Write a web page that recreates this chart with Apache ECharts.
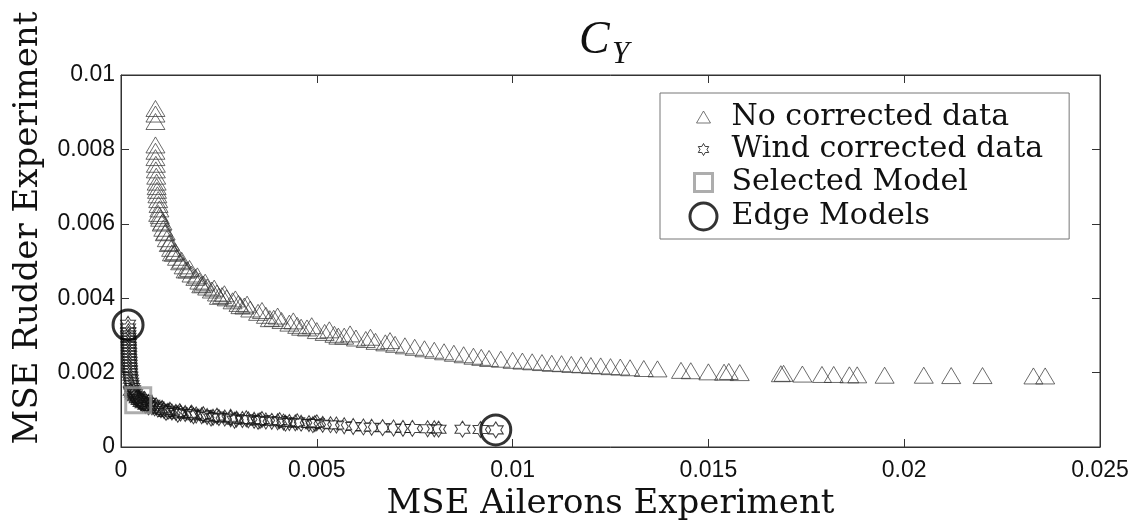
<!DOCTYPE html>
<html><head><meta charset="utf-8">
<script src="https://cdn.jsdelivr.net/npm/echarts@6/dist/echarts.min.js"></script>
<style>html,body{margin:0;padding:0;background:#fff}#c{width:1136px;height:521px}</style>
</head><body><div id="c"></div>
<script>
// ---- data ----
const xTickLabels = ['0', '0.005', '0.01', '0.015', '0.02', '0.025'];
const yTickLabels = ['0', '0.002', '0.004', '0.006', '0.008', '0.01'];
const seriesNames = ['No corrected data', 'Wind corrected data', 'Selected Model', 'Edge Models'];

// [MSE ailerons, MSE rudder]
const noCorrected = [
[0.00088,0.00910],[0.00088,0.00895],[0.00088,0.00875],[0.00088,0.00812],[0.00088,0.00795],[0.00088,0.00778],
[0.00089,0.00760],[0.00089,0.00745],[0.00090,0.00728],[0.00091,0.00712],[0.00091,0.00700],[0.00092,0.00690],
[0.00093,0.00678],[0.00095,0.00665],[0.00096,0.00652],[0.00098,0.00640],[0.00095,0.00628],[0.00099,0.00622],
[0.00100,0.00615],[0.00104,0.00602],[0.00108,0.00588],[0.00112,0.00576],[0.00117,0.00560],[0.00122,0.00547],
[0.00128,0.00534],[0.00135,0.00521],[0.00143,0.00510],[0.00151,0.00498],[0.00160,0.00487],[0.00170,0.00476],
[0.00180,0.00465],[0.00190,0.00456],[0.00200,0.00446],[0.00210,0.00438],[0.00220,0.00430],[0.00232,0.00422],
[0.00245,0.00414],[0.00258,0.00407],[0.00270,0.00401],[0.00285,0.00393],[0.00300,0.00386],[0.00315,0.00379],
[0.00330,0.00371],[0.00350,0.00362],[0.00370,0.00354],[0.00390,0.00346],[0.00410,0.00340],[0.00430,0.00333],
[0.00450,0.00327],[0.00475,0.00320],[0.00500,0.00313],[0.00520,0.00308],[0.00545,0.00303],[0.00570,0.00298],
[0.00600,0.00293],[0.00625,0.00289],[0.00650,0.00284],[0.00675,0.00280],[0.00700,0.00276],[0.00725,0.00272],
[0.00750,0.00268],[0.00775,0.00264],[0.00800,0.00260],[0.00825,0.00256],[0.00850,0.00252],[0.00875,0.00248],
[0.00900,0.00244],[0.00920,0.00241],[0.00940,0.00238],[0.00970,0.00236],[0.01000,0.00233],[0.01025,0.00231],
[0.01050,0.00229],[0.01075,0.00227],[0.01100,0.00225],[0.01125,0.00224],[0.01150,0.00222],[0.01175,0.00221],
[0.01200,0.00219],[0.01225,0.00218],[0.01250,0.00216],[0.01275,0.00215],[0.01300,0.00213],[0.01335,0.00211],
[0.01370,0.00210],
[0.00106,0.00605],[0.00114,0.00578],[0.00125,0.00550],[0.00139,0.00525],[0.00155,0.00502],[0.00175,0.00480],
[0.00195,0.00460],[0.00215,0.00443],[0.00238,0.00427],[0.00264,0.00412],[0.00292,0.00398],[0.00322,0.00384],
[0.00360,0.00367],[0.00400,0.00352],[0.00440,0.00339],[0.00487,0.00326],[0.00532,0.00315],[0.00585,0.00304],
[0.00637,0.00295],[0.00687,0.00286],
[0.00130,0.00522],[0.00165,0.00476],[0.00205,0.00436],[0.00250,0.00405],[0.00305,0.00380],[0.00380,0.00345],
[0.00460,0.00322],[0.00555,0.00298],
[0.01430,0.00206],[0.01455,0.00205],[0.01500,0.00202],[0.01540,0.00201],[0.01552,0.00203],[0.01580,0.00200],
[0.01685,0.00197],[0.01692,0.00198],[0.01740,0.00196],[0.01790,0.00195],[0.01820,0.00195],[0.01860,0.00194],
[0.01880,0.00194],[0.01950,0.00193],[0.02050,0.00193],[0.02120,0.00192],[0.02200,0.00192],[0.02330,0.00191],
[0.02360,0.00191]
];

const windCorrected = [
[0.00018,0.00330],[0.00018,0.00320],[0.00019,0.00310],[0.00019,0.00302],[0.00019,0.00294],[0.00020,0.00286],
[0.00020,0.00278],[0.00020,0.00270],[0.00020,0.00262],[0.00021,0.00254],[0.00021,0.00246],[0.00021,0.00238],
[0.00022,0.00230],[0.00022,0.00222],[0.00022,0.00214],[0.00023,0.00206],[0.00023,0.00198],[0.00024,0.00190],
[0.00025,0.00182],[0.00026,0.00174],[0.00027,0.00167],[0.00029,0.00160],[0.00031,0.00154],[0.00033,0.00148],
[0.00036,0.00143],[0.00039,0.00138],[0.00042,0.00134],[0.00046,0.00130],[0.00050,0.00126],[0.00055,0.00122],
[0.00060,0.00118],[0.00066,0.00114],[0.00072,0.00111],[0.00079,0.00108],[0.00086,0.00105],[0.00094,0.00102],
[0.00102,0.00100],[0.00110,0.00098],[0.00120,0.00096],[0.00130,0.00094],[0.00140,0.00093],[0.00152,0.00091],
[0.00164,0.00090],[0.00178,0.00088],[0.00192,0.00086],[0.00206,0.00084],[0.00220,0.00082],[0.00235,0.00080],
[0.00250,0.00079],[0.00265,0.00078],[0.00280,0.00076],[0.00295,0.00075],[0.00310,0.00074],[0.00325,0.00073],
[0.00340,0.00072],[0.00355,0.00071],[0.00370,0.00070],[0.00385,0.00069],[0.00400,0.00068],[0.00415,0.00067],
[0.00430,0.00066],[0.00445,0.00065],[0.00460,0.00064],[0.00480,0.00063],[0.00495,0.00063],[0.00515,0.00061],
[0.00535,0.00060],[0.00550,0.00059],[0.00570,0.00057],[0.00593,0.00055],[0.00619,0.00054],[0.00640,0.00053],
[0.00668,0.00052],[0.00696,0.00051],[0.00720,0.00050],[0.00744,0.00050],[0.00783,0.00049],[0.00800,0.00049],
[0.00811,0.00048],[0.00872,0.00048],[0.00918,0.00047],[0.00957,0.00046],
[0.00025,0.00150],[0.00028,0.00145],[0.00030,0.00140],[0.00035,0.00135],[0.00040,0.00130],[0.00045,0.00125],
[0.00050,0.00120],[0.00055,0.00116],[0.00062,0.00112],[0.00070,0.00108],[0.00060,0.00128],[0.00070,0.00120],
[0.00080,0.00115],[0.00090,0.00110],[0.00105,0.00104],[0.00125,0.00099],[0.00150,0.00095],[0.00180,0.00091],
[0.00210,0.00087],[0.00245,0.00083],[0.00280,0.00080],[0.00320,0.00076],[0.00360,0.00074],[0.00405,0.00071],
[0.00450,0.00068],[0.00500,0.00065],[0.00115,0.00093],[0.00145,0.00088],[0.00185,0.00084],[0.00230,0.00078],
[0.00290,0.00072],[0.00350,0.00069],[0.00420,0.00064],[0.00490,0.00060]
];

const selectedModel = [[0.00044, 0.00126]];
const edgeModels = [[0.00018, 0.00328], [0.00957, 0.00046]];

// ---- symbols ----
const hexPath = 'path://M50 0 L64.4 25 L93.3 25 L78.9 50 L93.3 75 L64.4 75 L50 100 L35.6 75 L6.7 75 L21.1 50 L6.7 25 L35.6 25 Z';
const legTri = 'path://M0 0 M30 30 M15 8.5 L22 20.5 L8 20.5 Z';
const legHex = 'path://M0 0 M30 30 M15 9 L16.7 12 L20.2 12 L18.5 15 L20.2 18 L16.7 18 L15 21 L13.3 18 L9.8 18 L11.5 15 L9.8 12 L13.3 12 Z';
const legSq = 'path://M0 0 M30 30 M6 6 L24 6 L24 24 L6 24 Z';
const legCirc = 'path://M0 0 M30 30 M15 1.5 A13.5 13.5 0 1 1 14.99 1.5 Z';

const xFmt = v => { const i = Math.round(v / 0.005); return xTickLabels[i] !== undefined ? xTickLabels[i] : ''; };
const yFmt = v => { const i = Math.round(v / 0.002); return yTickLabels[i] !== undefined ? yTickLabels[i] : ''; };

const chart = echarts.init(document.getElementById('c'), null, {renderer: 'canvas'});
const axisCommon = {
  type: 'value',
  axisLine: {show: true, onZero: false, lineStyle: {color: '#333', width: 1}},
  axisTick: {show: true, inside: true, length: 8, lineStyle: {color: '#333'}},
  splitLine: {show: false}
};
chart.setOption({
  animation: false,
  backgroundColor: '#fff',
  title: [
    {text: 'C', left: 574, top: 13,
     textStyle: {fontFamily: 'Liberation Serif', fontStyle: 'italic', fontWeight: 'normal', fontSize: 46, color: '#111'}},
    {text: 'Y', left: 607, top: 34,
     textStyle: {fontFamily: 'Liberation Serif', fontStyle: 'italic', fontWeight: 'normal', fontSize: 31, color: '#111'}}
  ],
  grid: {left: 121, right: 36, top: 75, bottom: 74, show: true, borderColor: '#333', borderWidth: 1,
         containLabel: false, outerBoundsMode: 'none'},
  legend: {
    orient: 'vertical', left: 660, top: 93,
    padding: [9, 26, 6, 27], itemGap: 1, itemWidth: 30, itemHeight: 30,
    borderColor: '#777', borderWidth: 1, backgroundColor: '#fff',
    textStyle: {fontFamily: 'DejaVu Serif', fontSize: 30, color: '#111', padding: [0, 0, 0, 8]},
    data: [
      {name: seriesNames[0], icon: legTri, itemStyle: {color: 'rgba(0,0,0,0)', borderColor: '#555', borderWidth: 1}},
      {name: seriesNames[1], icon: legHex, itemStyle: {color: 'rgba(0,0,0,0)', borderColor: '#111', borderWidth: 1}},
      {name: seriesNames[2], icon: legSq, itemStyle: {color: 'rgba(0,0,0,0)', borderColor: '#999', borderWidth: 3}},
      {name: seriesNames[3], icon: legCirc, itemStyle: {color: 'rgba(0,0,0,0)', borderColor: '#000', borderWidth: 3}}
    ]
  },
  xAxis: [
    Object.assign({}, axisCommon, {
      min: 0, max: 0.025, interval: 0.005, position: 'bottom',
      name: 'MSE Ailerons Experiment', nameLocation: 'middle', nameGap: 32,
      nameTextStyle: {fontFamily: 'DejaVu Serif', fontSize: 34, color: '#111'},
      axisLabel: {formatter: xFmt, margin: 12, fontFamily: 'Liberation Sans', fontSize: 23, color: '#111'}
    }),
    Object.assign({}, axisCommon, {
      min: 0, max: 0.025, interval: 0.005, position: 'top', axisLabel: {show: false}
    })
  ],
  yAxis: [
    Object.assign({}, axisCommon, {
      min: 0, max: 0.01, interval: 0.002, position: 'left',
      name: 'MSE Rudder Experiment', nameLocation: 'middle', nameGap: 76, nameRotate: 90,
      nameTextStyle: {fontFamily: 'DejaVu Serif', fontSize: 34, color: '#111', padding: [0, 0, 0, 66]},
      axisLabel: {formatter: yFmt, margin: 6, fontFamily: 'Liberation Sans', fontSize: 23, color: '#111'}
    }),
    Object.assign({}, axisCommon, {
      min: 0, max: 0.01, interval: 0.002, position: 'right', axisLabel: {show: false}
    })
  ],
  series: [
    {name: seriesNames[0], type: 'scatter', data: noCorrected, symbol: 'triangle', symbolSize: [19, 16],
     itemStyle: {color: 'rgba(0,0,0,0)', borderColor: '#333', borderWidth: 0.9}, z: 2},
    {name: seriesNames[1], type: 'scatter', data: windCorrected, symbol: hexPath, symbolSize: [15, 16],
     itemStyle: {color: 'rgba(0,0,0,0)', borderColor: '#111', borderWidth: 1}, z: 3},
    {name: seriesNames[2], type: 'scatter', data: selectedModel, symbol: 'rect', symbolSize: 25,
     itemStyle: {color: 'rgba(0,0,0,0)', borderColor: '#999', borderWidth: 3}, z: 4},
    {name: seriesNames[3], type: 'scatter', data: edgeModels, symbol: 'circle', symbolSize: 30,
     itemStyle: {color: 'rgba(0,0,0,0)', borderColor: '#000', borderWidth: 3}, z: 5}
  ]
});
</script></body></html>
